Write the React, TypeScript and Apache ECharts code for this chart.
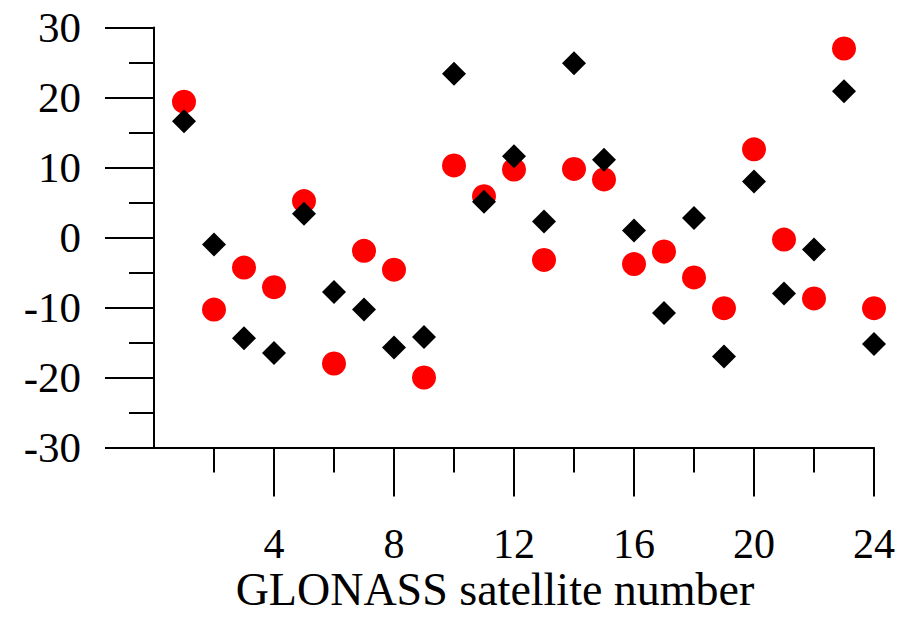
import React, { useEffect, useRef } from "react";
import * as echarts from "echarts";

const satellites = [1, 2, 3, 4, 5, 6, 7, 8, 9, 10, 11, 12, 13, 14, 15, 16, 17, 18, 19, 20, 21, 22, 23, 24];
const redValues = [19.4, -10.3, -4.3, -7.1, 5.2, -18.0, -1.9, -4.6, -20.0, 10.3, 5.9, 9.7, -3.2, 9.8, 8.3, -3.8, -2.0, -5.7, -10.1, 12.6, -0.3, -8.7, 27.0, -10.1];
const blackValues = [16.6, -1.0, -14.4, -16.5, 3.4, -7.8, -10.3, -15.7, -14.2, 23.4, 5.1, 11.6, 2.3, 24.9, 11.1, 1.0, -10.8, 2.8, -17.0, 8.0, -8.0, -1.7, 20.9, -15.2];
const xTickValues = [4, 8, 12, 16, 20, 24];
const xAxisTitle = "GLONASS satellite number";

const FONT = "Liberation Serif, 'Times New Roman', serif";

export default function App() {
  const ref = useRef<HTMLDivElement>(null);
  useEffect(() => {
    if (!ref.current) return;
    const chart = echarts.init(ref.current, null, { renderer: "svg" });
    const lineStyle = { color: "#000", width: 2 };
    chart.setOption({
      animation: false,
      backgroundColor: "#fff",
      grid: { left: 154, top: 27.5, width: 720, height: 420 },
      xAxis: {
        type: "value",
        min: 0,
        max: 24,
        interval: 4,
        splitLine: { show: false },
        axisLine: { show: true, onZero: false, lineStyle },
        axisTick: { show: true, length: 49, lineStyle, customValues: xTickValues },
        minorTick: { show: true, splitNumber: 2, length: 25, lineStyle },
        minorSplitLine: { show: false },
        axisLabel: {
          color: "#000",
          fontFamily: FONT,
          fontSize: 42,
          lineHeight: 34,
          margin: 79.5,
          customValues: xTickValues,
        },
      },
      yAxis: {
        type: "value",
        min: -30,
        max: 30,
        interval: 10,
        splitLine: { show: false },
        axisLine: { show: true, lineStyle },
        axisTick: { show: true, length: 49, lineStyle },
        minorTick: { show: true, splitNumber: 2, length: 25, lineStyle },
        minorSplitLine: { show: false },
        axisLabel: {
          color: "#000",
          fontFamily: FONT,
          fontSize: 43,
          margin: 73,
        },
      },
      graphic: [
        {
          type: "text",
          x: 495,
          y: 589,
          style: {
            text: xAxisTitle,
            font: `46px ${FONT}`,
            lineHeight: 36,
            fill: "#000",
            textAlign: "center",
            textVerticalAlign: "middle",
          },
        },
      ],
      series: [
        {
          type: "scatter",
          symbol: "circle",
          symbolSize: 24,
          itemStyle: { color: "#ff0000", opacity: 1 },
          data: satellites.map((s, i) => [s, redValues[i]]),
          z: 2,
        },
        {
          type: "scatter",
          symbol: "diamond",
          symbolSize: 24,
          itemStyle: { color: "#000000", opacity: 1 },
          data: satellites.map((s, i) => [s, blackValues[i]]),
          z: 3,
        },
      ],
    });
    return () => chart.dispose();
  }, []);
  return (
    <div
      ref={ref}
      style={{ position: "fixed", left: 0, top: 0, width: 919, height: 620, background: "#fff" }}
    />
  );
}
